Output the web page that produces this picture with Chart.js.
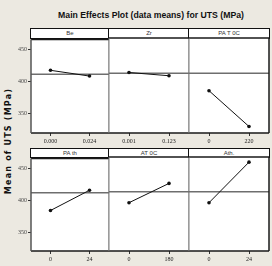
<!DOCTYPE html>
<html>
<head>
<meta charset="utf-8">
<script src="https://cdn.jsdelivr.net/npm/chart.js@4"></script>
<style>
  html, body { margin: 0; padding: 0; }
  body { width: 272px; height: 266px; background: #ece9e1; position: relative; overflow: hidden;
         font-family: "Liberation Sans Narrow", "Liberation Sans", sans-serif; }
  #title { position: absolute; left: 30px; top: 10px; width: 242px; text-align: center;
           font-weight: bold; font-size: 8.7px; color: #111; }
  #ytitle { position: absolute; left: 8px; top: 141px; transform: translate(-50%, -50%) rotate(-90deg);
            white-space: nowrap; font-weight: bold; font-size: 8px; letter-spacing: 1.2px; color: #111;
            font-family: "DejaVu Sans", sans-serif; }
  .hdr { position: absolute; box-sizing: border-box; border: 1px solid #111; background: #fff;
         text-align: center; font-size: 6px; line-height: 8px; color: #333; }
  canvas { position: absolute; }
</style>
</head>
<body>
<div id="title">Main Effects Plot (data means) for UTS (MPa)</div>
<div id="ytitle">Mean of UTS (MPa)</div>
<script>
const factors = ["Be", "Zr", "PA T 0C", "PA th", "AT 0C", "Ath."];
const levels = [
  ["0.000", "0.024"],
  ["0.001", "0.123"],
  ["0", "220"],
  ["0", "24"],
  ["0", "180"],
  ["0", "24"]
];
const beMeans = [418, 409];
const zrMeans = [413, 408];
const patMeans = [385, 330];
const pathMeans = [384, 416];
const atMeans = [395, 425];
const athMeans = [395, 458];
const seriesValues = [beMeans, zrMeans, patMeans, pathMeans, atMeans, athMeans];
const meanValue = 412;
const yTicks = [350, 400, 450];
const yMin = 320;
const yMax = 466;

// panel geometry (plot areas)
const cols = [[31, 109], [109, 189], [189, 269]];
const rows = [[38, 133], [157, 251]];
const headerTop = [28, 148];
const PAD = 3;
const Y_AXIS_W = 17;
const X_AXIS_H = 14;
const FONT = "Liberation Sans Narrow";

const panelPlugin = {
  id: "panel",
  beforeDraw(chart, args, opts) {
    const a = chart.chartArea;
    const ctx = chart.ctx;
    ctx.save();
    ctx.fillStyle = "#fff";
    ctx.fillRect(a.left, a.top, a.right - a.left, a.bottom - a.top);
    // reference line at overall mean
    const y = chart.scales.y.getPixelForValue(meanValue);
    ctx.strokeStyle = "#6e6e6e";
    ctx.lineWidth = 1.5;
    ctx.beginPath();
    ctx.moveTo(a.left, y);
    ctx.lineTo(a.right, y);
    ctx.stroke();
    ctx.restore();
  },
  afterDraw(chart, args, opts) {
    const a = chart.chartArea;
    const ctx = chart.ctx;
    ctx.save();
    ctx.lineWidth = 1.5;
    ctx.strokeStyle = "#1a1a1a";
    ctx.beginPath();
    ctx.moveTo(a.left, a.top); ctx.lineTo(a.right, a.top);
    ctx.moveTo(a.left, a.bottom); ctx.lineTo(a.right, a.bottom);
    ctx.stroke();
    // outer left edge gray, inner dividers gray, outer right edge dark
    ctx.strokeStyle = opts.col === 0 ? "#555" : "#707070";
    ctx.lineWidth = opts.col === 0 ? 1.5 : 0.9;
    ctx.beginPath();
    ctx.moveTo(a.left, a.top); ctx.lineTo(a.left, a.bottom);
    ctx.stroke();
    ctx.strokeStyle = opts.col === 2 ? "#1a1a1a" : "#707070";
    ctx.lineWidth = opts.col === 2 ? 1.5 : 0.9;
    ctx.beginPath();
    ctx.moveTo(a.right, a.top); ctx.lineTo(a.right, a.bottom);
    ctx.stroke();
    ctx.restore();
  }
};

factors.forEach((name, i) => {
  const c = i % 3;
  const r = Math.floor(i / 3);
  const [x0, x1] = cols[c];
  const [y0, y1] = rows[r];
  const yw = c === 0 ? Y_AXIS_W : 0;

  const hdr = document.createElement("div");
  hdr.className = "hdr";
  hdr.textContent = name;
  hdr.style.left = (x0 - 1) + "px";
  hdr.style.top = headerTop[r] + "px";
  hdr.style.width = (x1 - x0 + 2) + "px";
  hdr.style.height = (y0 - headerTop[r] + 1) + "px";
  document.body.appendChild(hdr);

  const canvas = document.createElement("canvas");
  const w = x1 - x0 + 2 * PAD + yw;
  const h = y1 - y0 + PAD + X_AXIS_H;
  canvas.width = w;
  canvas.height = h;
  canvas.style.left = (x0 - PAD - yw) + "px";
  canvas.style.top = (y0 - PAD) + "px";
  canvas.style.width = w + "px";
  canvas.style.height = h + "px";
  document.body.appendChild(canvas);

  new Chart(canvas, {
    type: "line",
    data: {
      labels: levels[i],
      datasets: [{
        data: seriesValues[i],
        borderColor: "#111",
        backgroundColor: "#111",
        borderWidth: 1,
        pointRadius: 1.8,
        pointBorderWidth: 0,
        tension: 0,
        clip: false
      }]
    },
    options: {
      responsive: false,
      animation: false,
      events: [],
      layout: { autoPadding: false, padding: { left: PAD, right: PAD, top: PAD, bottom: 0 } },
      plugins: { legend: { display: false }, tooltip: { enabled: false }, panel: { col: c } },
      scales: {
        x: {
          type: "category",
          offset: true,
          afterFit(scale) { scale.height = X_AXIS_H; },
          border: { display: false },
          grid: { offset: false, drawOnChartArea: false, drawTicks: true, tickLength: 3, color: "#333", lineWidth: 1 },
          ticks: { color: "#222", padding: 2, maxRotation: 0, autoSkip: false, font: { family: FONT, size: 6 } }
        },
        y: {
          display: c === 0,
          min: yMin,
          max: yMax,
          afterFit(scale) { scale.width = yw; },
          afterBuildTicks(scale) { scale.ticks = yTicks.map(v => ({ value: v })); },
          border: { display: false },
          grid: { drawOnChartArea: false, drawTicks: true, tickLength: 3, color: "#333", lineWidth: 1 },
          ticks: { color: "#444", padding: 1, font: { family: FONT, size: 6 } }
        }
      }
    },
    plugins: [panelPlugin]
  });
});
</script>
</body>
</html>
